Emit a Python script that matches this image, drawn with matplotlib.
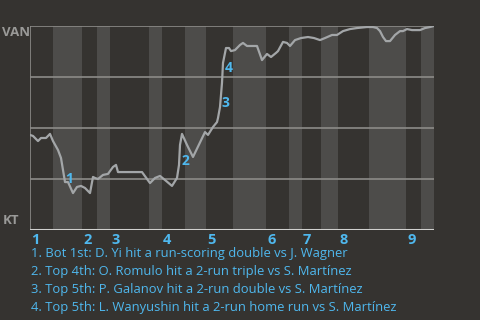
import matplotlib
matplotlib.use("Agg")
import matplotlib.pyplot as plt
from matplotlib.patches import Rectangle

# x positions along the game timeline (0..404 units) and VAN win probability
play_x = [0, 3, 8, 11, 16, 20, 23, 28, 31, 33, 35, 38, 43, 47, 51, 55, 60, 63, 65, 68,
          73, 78, 83, 86, 88, 112, 120, 125, 130, 135, 142, 147, 149, 150, 152, 157,
          163, 175, 178, 183, 187, 188, 190, 192, 193, 196, 199, 201, 205, 210, 213,
          217, 227, 232, 237, 241, 246, 248, 253, 257, 260, 265, 271, 278, 284, 290,
          295, 302, 307, 313, 320, 327, 337, 343, 347, 350, 353, 356, 360, 365, 370,
          373, 377, 382, 390, 395, 400, 404]
win_prob = [0.466, 0.461, 0.436, 0.451, 0.451, 0.471, 0.436, 0.392, 0.353, 0.294,
            0.235, 0.235, 0.181, 0.211, 0.216, 0.206, 0.181, 0.260, 0.255, 0.250,
            0.270, 0.275, 0.309, 0.319, 0.284, 0.284, 0.230, 0.255, 0.265, 0.245,
            0.216, 0.255, 0.319, 0.417, 0.471, 0.417, 0.358, 0.480, 0.466, 0.505,
            0.529, 0.549, 0.603, 0.721, 0.819, 0.892, 0.892, 0.877, 0.882, 0.907,
            0.917, 0.902, 0.902, 0.833, 0.863, 0.848, 0.868, 0.877, 0.922, 0.917,
            0.902, 0.931, 0.941, 0.946, 0.941, 0.931, 0.941, 0.956, 0.956, 0.975,
            0.985, 0.990, 0.995, 0.995, 0.990, 0.975, 0.946, 0.926, 0.926, 0.956,
            0.975, 0.975, 0.985, 0.980, 0.980, 0.990, 0.995, 1.0]

# half-inning boundaries (timeline units)
half_edges = [0, 23, 52, 67, 80, 119, 132, 155, 176, 203, 236, 259, 272, 291, 308,
              339, 376, 391, 404]
inning_labels = ["1", "2", "3", "4", "5", "6", "7", "8", "9"]

# key events: (x, win prob position of label)
event_x = [39, 155, 195, 199]
event_y = [0.25, 0.338, 0.623, 0.795]
event_labels = ["1", "2", "3", "4"]
event_texts = [
    "1. Bot 1st: D. Yi hit a run-scoring double vs J. Wagner",
    "2. Top 4th: O. Romulo hit a 2-run triple vs S. Martínez",
    "3. Top 5th: P. Galanov hit a 2-run double vs S. Martínez",
    "4. Top 5th: L. Wanyushin hit a 2-run home run vs S. Martínez",
]
team_top = "VAN"
team_bottom = "KT"

BG = "#353330"
BAND = "#4d4c4a"
GRID = "#8c8b88"
LINE = "#a3a6a8"
BLUE = "#4fb8ee"
LABEL = "#9a9a98"
plt.rcParams["font.family"] = ["Open Sans", "DejaVu Sans"]

W, H = 480, 320
fig = plt.figure(figsize=(W / 100, H / 100), dpi=100, facecolor=BG)
ax = fig.add_axes([30 / W, (H - 230) / H, 404 / W, 204 / H])
ax.set_facecolor(BG)
ax.set_xlim(0, 404)
ax.set_ylim(0, 1)
for s in ax.spines.values():
    s.set_visible(False)
ax.set_xticks([])
ax.set_yticks([])

# alternate half-inning bands (bottom halves lighter)
for i in range(len(half_edges) - 1):
    if i % 2 == 1:
        ax.add_patch(Rectangle((half_edges[i], 0), half_edges[i + 1] - half_edges[i], 1,
                               facecolor=BAND, edgecolor="none", zorder=0))

for gy in [0.25, 0.5, 0.75, 1.0]:
    ax.axhline(gy, color=GRID, lw=1.2, zorder=1)
ax.axvline(0, color=GRID, lw=1.2, zorder=1)
ax.axhline(0, color="#d0d0ce", lw=2.2, zorder=3)

ax.plot(play_x, win_prob, color=LINE, lw=1.6, zorder=4, solid_joinstyle="round")

for ex, ey, lab in zip(event_x, event_y, event_labels):
    ax.text(ex, ey, lab, color=BLUE, fontsize=10, fontweight="bold",
            ha="center", va="center", zorder=5)

# inning labels
for k, lab in enumerate(inning_labels):
    ax.text(half_edges[2 * k] + 1, -0.05, lab, color=BLUE, fontsize=10.5,
            fontweight="bold", ha="left", va="center", zorder=5, clip_on=False)

fig.text(2.5 / W, 1 - 33 / H, team_top, color=LABEL, fontsize=9.5, fontweight="bold",
         ha="left", va="center")
fig.text(3 / W, 1 - 220 / H, team_bottom, color=LABEL, fontsize=9.5, fontweight="bold",
         ha="left", va="center")

for i, t in enumerate(event_texts):
    fig.text(31 / W, 1 - (254 + 18 * i) / H, t, color=BLUE, fontsize=9.4,
             ha="left", va="center")

fig.savefig("out.png", dpi=100, facecolor=BG)
